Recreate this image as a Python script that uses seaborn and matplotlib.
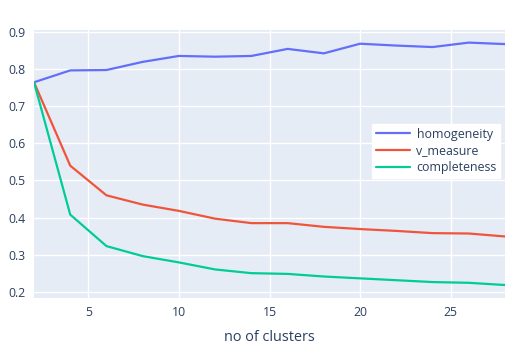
import pandas as pd
from matplotlib import pyplot as plt
import seaborn as sns
import numpy as np

n_clusters = [2, 4, 6, 8, 10, 12, 14, 16, 18, 20, 22, 24, 26, 28]
homogeneity = [0.765, 0.797, 0.798, 0.820, 0.836, 0.834, 0.836, 0.855, 0.843, 0.869, 0.864, 0.860, 0.872, 0.868]
v_measure = [0.765, 0.540, 0.460, 0.435, 0.418, 0.397, 0.385, 0.385, 0.375, 0.369, 0.364, 0.358, 0.357, 0.349]
completeness = [0.765, 0.408, 0.323, 0.296, 0.279, 0.260, 0.250, 0.248, 0.241, 0.236, 0.231, 0.226, 0.224, 0.218]
metric_names = ["homogeneity", "v_measure", "completeness"]

df = pd.DataFrame({
    "no of clusters": n_clusters * 3,
    "score": homogeneity + v_measure + completeness,
    "metric": np.repeat(metric_names, len(n_clusters)),
})

sns.set_style("darkgrid", {"axes.facecolor": "#E5ECF6", "grid.color": "white"})
plt.rcParams["font.family"] = ["Open Sans", "DejaVu Sans"]
text_col = "#2a3f5f"

fig = plt.figure(figsize=(5.13, 3.49), dpi=100)
ax = fig.add_axes([34 / 513, 51 / 349, 471 / 513, 268 / 349])
sns.lineplot(ax=ax, data=df, x="no of clusters", y="score", hue="metric",
             palette=["#636EFA", "#EF553B", "#00CC96"], linewidth=1.6)
ax.set_xlim(2, 28)
ax.set_ylim(0.183, 0.906)
ax.set_xticks([5, 10, 15, 20, 25])
ax.set_yticks([0.2, 0.3, 0.4, 0.5, 0.6, 0.7, 0.8, 0.9])
ax.set_yticklabels(["0.2", "0.3", "0.4", "0.5", "0.6", "0.7", "0.8", "0.9"])
ax.tick_params(length=0, labelsize=8.8, colors=text_col, pad=6)
ax.set_ylabel("")
ax.set_xlabel("no of clusters", fontsize=10.4, color=text_col, labelpad=8)
for s in ax.spines.values():
    s.set_visible(False)
ax.grid(True, color="white", linewidth=1)

leg = ax.legend(loc="upper left", bbox_to_anchor=(338 / 471, (298 - 124) / 268),
                frameon=True, fontsize=8.9, handlelength=2.8, borderaxespad=0,
                labelspacing=0.3, borderpad=0.3, handletextpad=0.5, fancybox=False)
leg.get_frame().set_facecolor("white")
leg.get_frame().set_edgecolor("white")
leg.get_frame().set_alpha(1)
for t in leg.get_texts():
    t.set_color(text_col)

plt.savefig("out.png", dpi=100)
